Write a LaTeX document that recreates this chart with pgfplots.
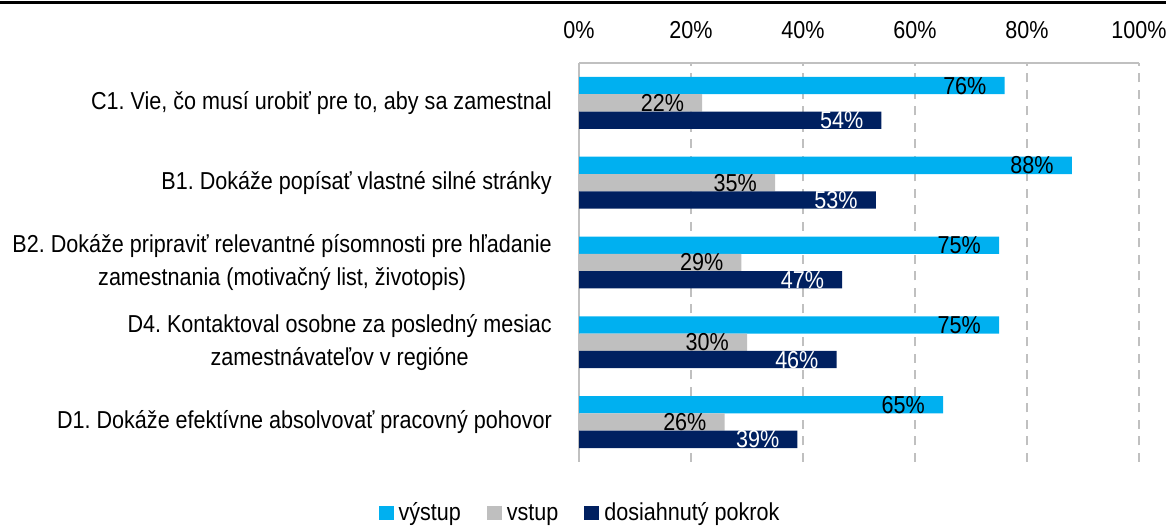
\documentclass[border=0pt]{standalone}
\usepackage{pgfplots}
\pgfplotsset{compat=1.18}
\usepackage{fontspec}
\setmainfont[FakeStretch=0.88]{Liberation Sans}
\definecolor{cyanbar}{HTML}{00B0F0}
\definecolor{graybar}{HTML}{BFBFBF}
\definecolor{navybar}{HTML}{002060}
\definecolor{gridc}{HTML}{C0C0C0}
\frenchspacing
\begin{document}
\begin{tikzpicture}[font=\fontsize{24.5}{33}\selectfont]
\useasboundingbox (0,0) rectangle (1166pt,526pt);
\draw[line width=3pt] (0,523pt) -- (1166pt,523pt);
\begin{axis}[
  at={(579pt,64pt)}, anchor=south west,
  scale only axis, width=560pt, height=399pt,
  xmin=0, xmax=100, ymin=-0.5, ymax=4.5,
  /pgf/number format/assume math mode=true,
  axis x line*=top, axis y line*=left,
  axis line style={draw=gridc, line width=1.5pt},
  xtick={0,20,...,100},
  xticklabels={0\%,20\%,40\%,60\%,80\%,100\%},
  xticklabel style={inner sep=0pt, yshift=24pt},
  ytick={0,1,2,3,4},
  yticklabels={
    {D1. Dokáže efektívne absolvovať pracovný pohovor},
    {D4. Kontaktoval osobne za posledný mesiac\\zamestnávateľov v regióne},
    {B2. Dokáže pripraviť relevantné písomnosti pre hľadanie\\zamestnania (motivačný list, životopis)},
    {B1. Dokáže popísať vlastné silné stránky},
    {C1. Vie, čo musí urobiť pre to, aby sa zamestnal}},
  yticklabel style={align=center, inner sep=0pt, xshift=-27pt},
  major tick length=0pt,
  xmajorgrids,
  grid style={gridc, line width=1.5pt, dash pattern=on 9pt off 7.5pt},
  xbar, bar width=17.3pt,
  point meta=x,
  nodes near coords={\pgfmathprintnumber[assume math mode=true]{\pgfplotspointmeta}\%},
  every node near coord/.append style={anchor=east, inner sep=0pt, xshift=-18pt, text=black},
  legend columns=3,
  legend style={draw=none, fill=none, at={(0.0,-0.13)}, anchor=center,
    nodes={inner sep=0pt, text height=0.72em, text depth=0.22em},
    /tikz/every odd column/.append style={column sep=5pt},
    /tikz/every even column/.append style={column sep=26pt}},
  legend image code/.code={\fill[#1, draw=none] (0pt,-2pt) rectangle (15pt,12pt);},
  clip=false,
]
\addplot[fill=cyanbar, draw=none, bar shift=17.3pt] coordinates {(65,0) (75,1) (75,2) (88,3) (76,4)};
\addplot[fill=graybar, draw=none, bar shift=0pt] coordinates {(26,0) (30,1) (29,2) (35,3) (22,4)};
\addplot[fill=navybar, draw=none, bar shift=-17.3pt, every node near coord/.append style={text=white}] coordinates {(39,0) (46,1) (47,2) (53,3) (54,4)};
\legend{výstup, vstup, dosiahnutý pokrok}
\end{axis}
\end{tikzpicture}
\end{document}
